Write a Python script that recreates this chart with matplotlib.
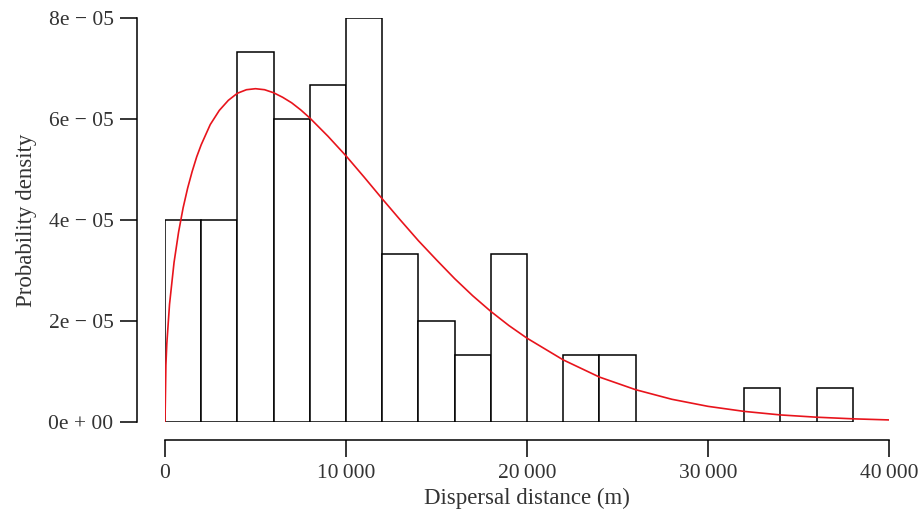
import matplotlib
matplotlib.use("Agg")
import matplotlib.pyplot as plt
from matplotlib.ticker import FuncFormatter

plt.rcParams['font.family'] = ['Liberation Serif', 'DejaVu Serif']

# histogram: bin edges (m) and density per bin
bin_edges = list(range(0, 40000, 2000))
density = [4.0e-5, 4.0e-5, 7.33e-5, 6.0e-5, 6.67e-5, 8.0e-5, 3.33e-5, 2.0e-5,
           1.33e-5, 3.33e-5, 0.0, 1.33e-5, 1.33e-5, 0.0, 0.0, 0.0,
           0.67e-5, 0.0, 0.67e-5]

# fitted density curve (values in 1e-5)
curve_x = [0, 50, 100, 250, 500, 750, 1000, 1250, 1500, 1750, 2000, 2500,
           3000, 3500, 4000, 4500, 5000, 5500, 6000, 6500, 7000, 7500, 8000,
           9000, 10000, 11000, 12000, 13000, 14000, 15000, 16000, 17000,
           18000, 19000, 20000, 22000, 24000, 26000, 28000, 30000, 32000,
           34000, 36000, 38000, 40000]
curve_y = [0.0, 1.13, 1.55, 2.33, 3.16, 3.76, 4.24, 4.63, 4.96, 5.25, 5.49,
           5.89, 6.17, 6.37, 6.51, 6.58, 6.60, 6.58, 6.52, 6.43, 6.32, 6.18,
           6.02, 5.66, 5.27, 4.85, 4.42, 4.00, 3.59, 3.21, 2.84, 2.50, 2.19,
           1.91, 1.66, 1.23, 0.89, 0.64, 0.45, 0.31, 0.21, 0.14, 0.095,
           0.063, 0.041]
curve_y = [v * 1e-5 for v in curve_y]

x_ticks = [0, 10000, 20000, 30000, 40000]
y_ticks = [0, 2e-5, 4e-5, 6e-5, 8e-5]

txt = '#333333'
fig = plt.figure(figsize=(9.21, 5.14), dpi=100)
ax = fig.add_axes([165 / 921, 1 - 422 / 514, 724 / 921, 404 / 514])

ax.bar(bin_edges[:len(density)], density, width=2000, align='edge',
       facecolor='white', edgecolor='black', linewidth=1.1)
ax.plot(curve_x, curve_y, color='#e8141c', linewidth=1.2)

ax.set_xlim(0, 40000)
ax.set_ylim(0, 8e-5)
for s in ['top', 'right']:
    ax.spines[s].set_visible(False)
ax.spines['left'].set_position(('outward', 20))
ax.spines['bottom'].set_position(('outward', 13))
ax.spines['left'].set_bounds(0, 8e-5)
ax.spines['bottom'].set_bounds(0, 40000)
for s in ['left', 'bottom']:
    ax.spines[s].set_linewidth(1.1)

ax.set_xticks(x_ticks)
ax.set_yticks(y_ticks)


def xfmt(v, pos):
    v = int(round(v))
    if v < 10000:
        return str(v)
    return f"{v // 1000}\u2009{v % 1000:03d}"


def yfmt(v, pos):
    m, e = f"{v:.0e}".split('e')
    sign = '+' if int(e) >= 0 else '\u2212'
    return f"{m}e {sign} {abs(int(e)):02d}"


ax.xaxis.set_major_formatter(FuncFormatter(xfmt))
ax.yaxis.set_major_formatter(FuncFormatter(yfmt))
ax.tick_params(length=12, width=1.1, pad=5, labelsize=15.5, colors='black',
               labelcolor=txt)

ax.set_xlabel('Dispersal distance (m)', fontsize=16.5, color=txt, labelpad=4)
ax.set_ylabel('Probability density', fontsize=16.5, color=txt, labelpad=8)

fig.savefig('out.png', dpi=100)
